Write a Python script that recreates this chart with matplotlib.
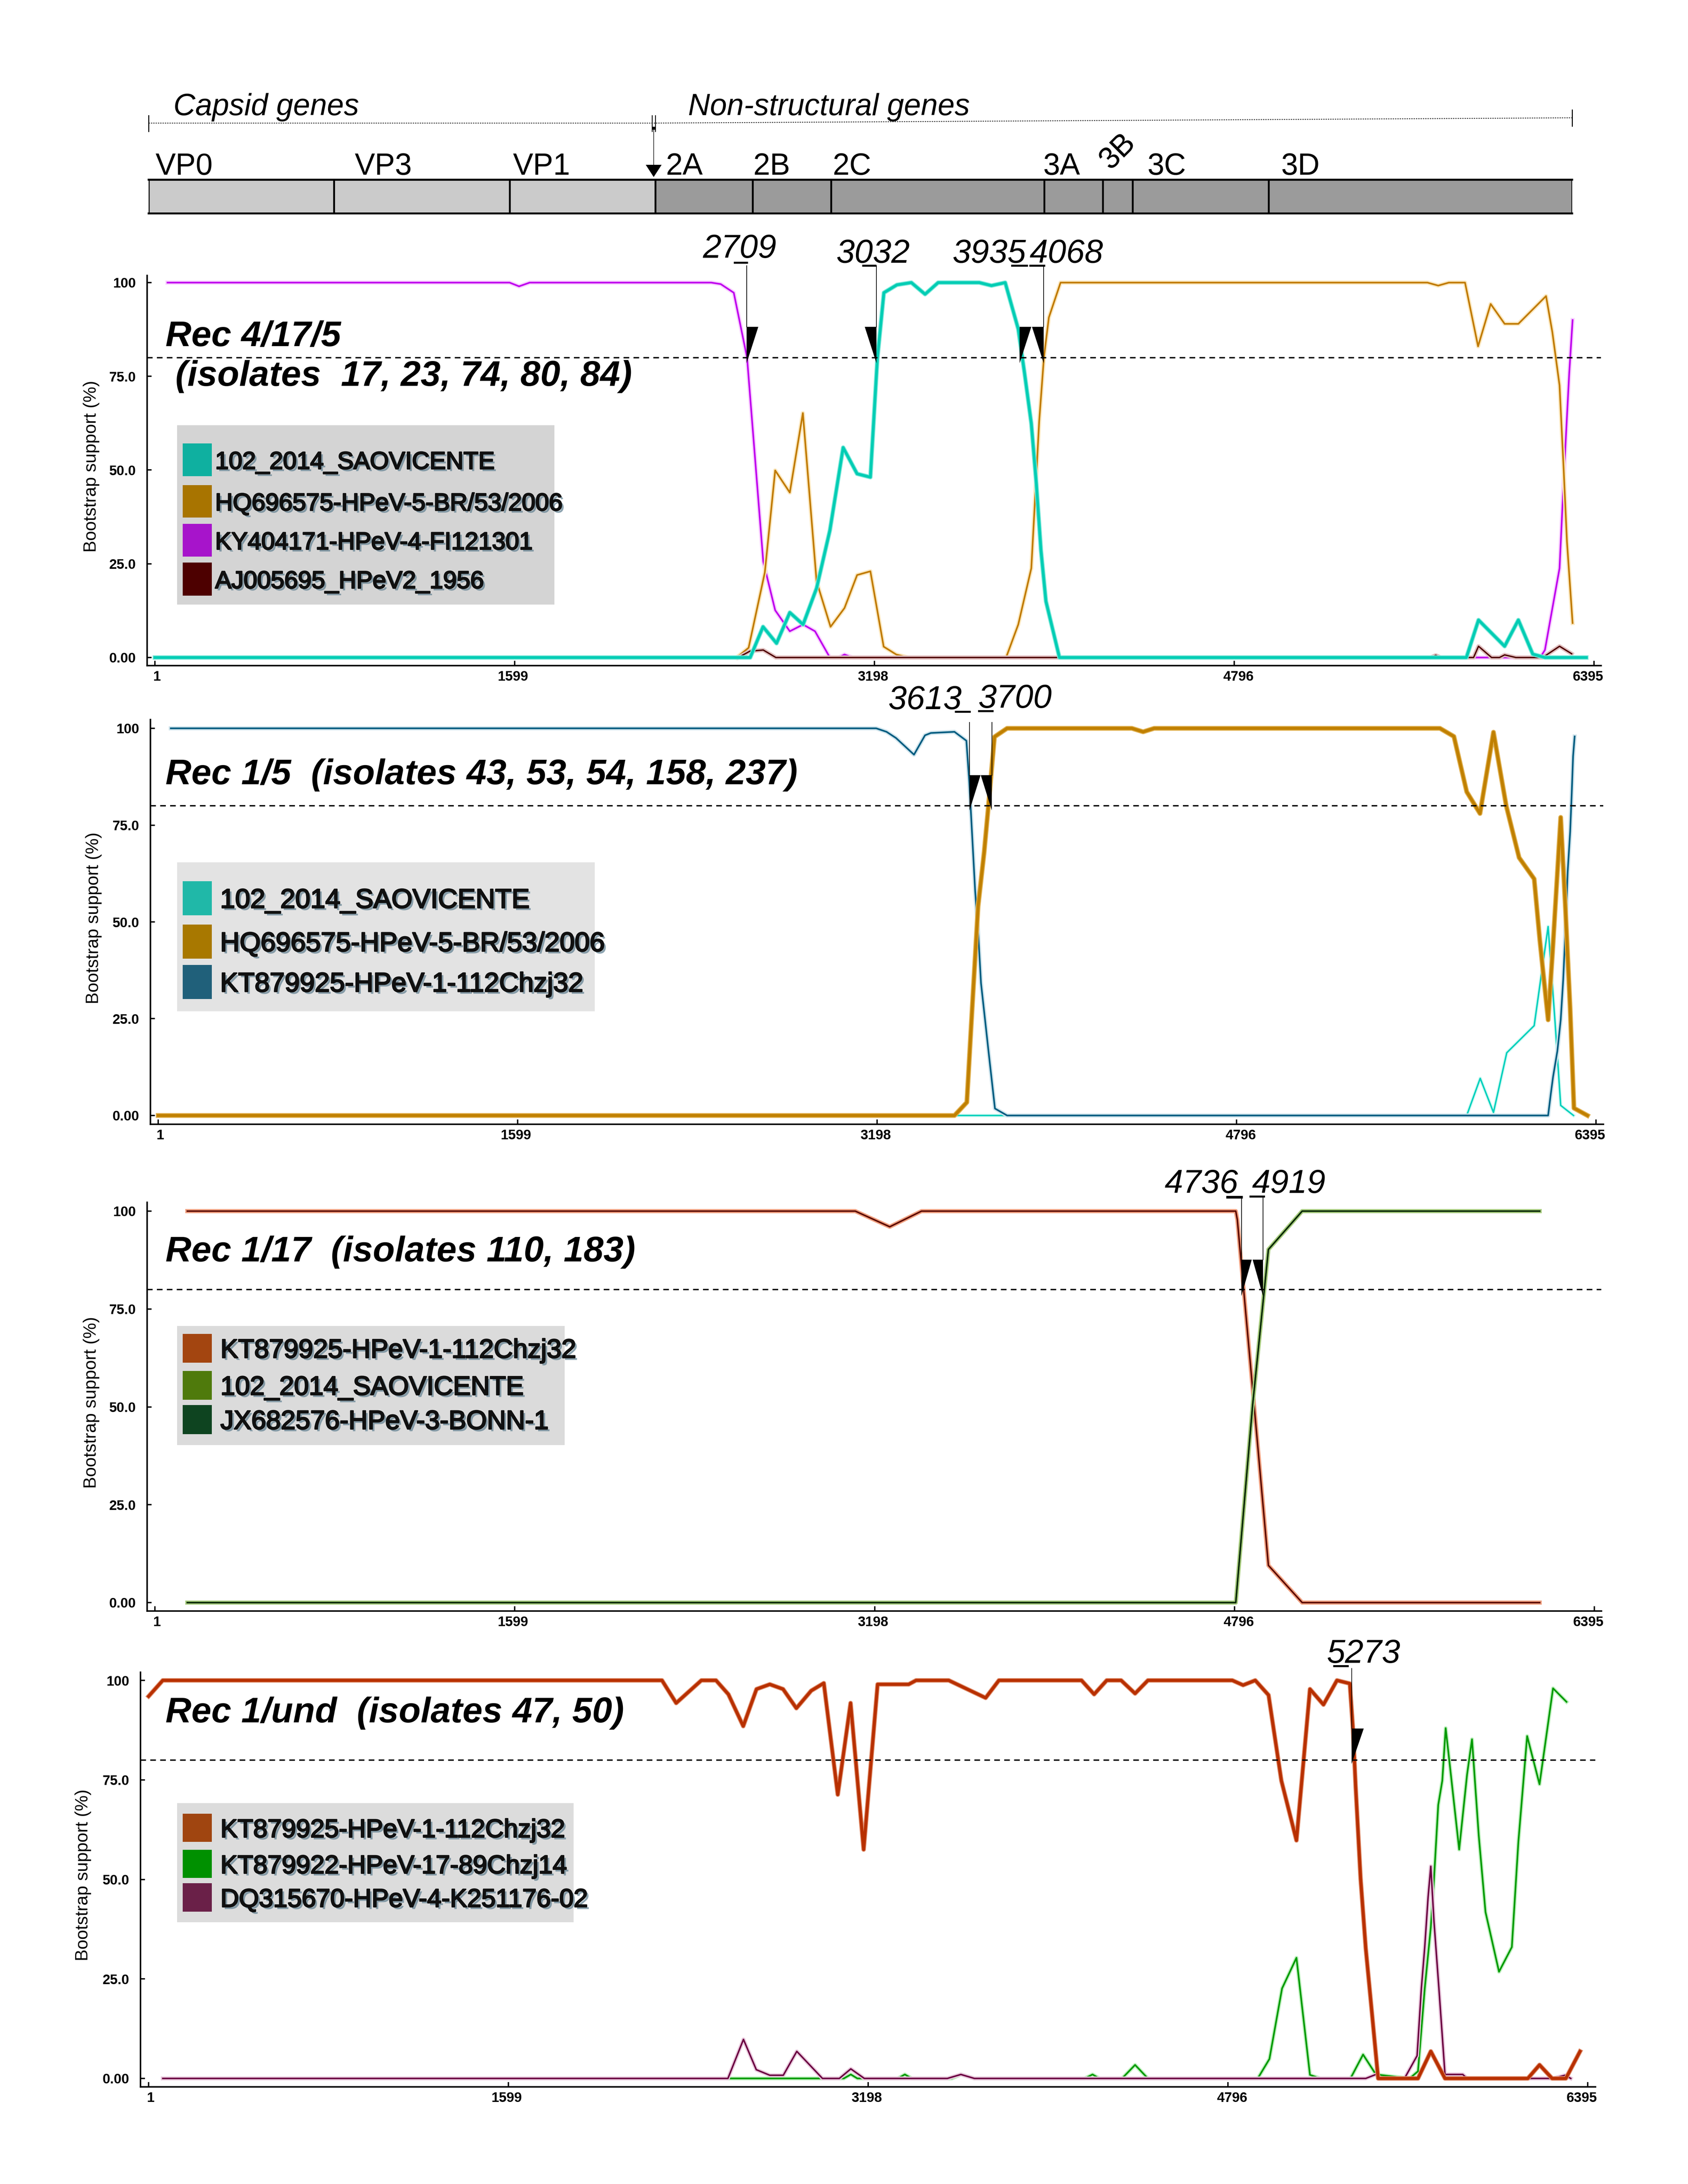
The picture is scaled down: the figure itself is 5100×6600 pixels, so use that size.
import matplotlib
matplotlib.use('Agg')
import matplotlib.pyplot as plt
import matplotlib.patheffects as pe
from matplotlib.transforms import ScaledTranslation

plt.rcParams['font.family'] = ['Liberation Sans', 'DejaVu Sans']

W, H = 5100, 6600

# genome map
gene_names = ['VP0', 'VP3', 'VP1', '2A', '2B', '2C', '3A', '3B', '3C', '3D']
gene_edges = [0, 833, 1622, 2277, 2714, 3066, 4024, 4287, 4421, 5032, 6395]
gene_colors = ['#CBCBCB'] * 3 + ['#9B9B9B'] * 7

x_ticks = [1, 1599, 3198, 4796, 6395]
y_ticks = [0, 25, 50, 75, 100]
y_tick_labels = ['0.00', '25.0', '50.0', '75.0', '100']
threshold = 80

# Rec 4/17/5
p1_labels = ['102_2014_SAOVICENTE', 'HQ696575-HPeV-5-BR/53/2006', 'KY404171-HPeV-4-FI121301', 'AJ005695_HPeV2_1956']
p1_ky_x = [57, 1577, 1619, 1666, 2473, 2515, 2573, 2632, 2704, 2757, 2822, 2881, 2934, 3000, 3040, 3065, 3100, 6156, 6177, 6242, 6263, 6285, 6300]
p1_ky_y = [100, 100, 99, 100, 100, 99.6, 97.3, 80, 25.6, 12.6, 7, 8.8, 7, 0, 0, 0.8, 0, 0, 2, 23.8, 50.5, 75.8, 90]
p1_hq_x = [2586, 2639, 2711, 2757, 2822, 2880, 2941, 3003, 3065, 3121, 3180, 3239, 3295, 3348, 3783, 3837, 3895, 3912, 3930, 3951, 3973, 4025, 5655, 5703, 5750, 5822, 5880, 5936, 5998, 6059, 6182, 6210, 6242, 6260, 6275, 6300]
p1_hq_y = [0, 2.6, 22.7, 49.9, 44, 65.2, 20.3, 8.2, 13.2, 22, 23, 2.9, 0.8, 0, 0, 8.8, 23.8, 42.7, 63, 80, 90.7, 100, 100, 99.2, 100, 100, 83, 94.3, 89, 89, 96.4, 86.8, 72.6, 50.6, 30.9, 9.2]
p1_aj_x = [2593, 2645, 2704, 2760, 5670, 5692, 5714, 5860, 5882, 5940, 5975, 5998, 6048, 6167, 6242, 6296]
p1_aj_y = [0, 1.7, 2, 0, 0, 0.6, 0, 0, 3, 0, 0, 0.7, 0, 0, 3, 1]
p1_sv_x = [1, 2646, 2703, 2763, 2822, 2881, 2941, 3000, 3059, 3121, 3180, 3211, 3240, 3298, 3362, 3423, 3481, 3664, 3718, 3779, 3837, 3865, 3895, 3917, 3938, 3960, 4020, 5828, 5882, 5998, 6059, 6123, 6177, 6361]
p1_sv_y = [0, 0, 8.2, 3.8, 12, 8.8, 18.5, 33.9, 56, 49, 48.1, 79.7, 97.3, 99.4, 100, 96.9, 100, 100, 99.2, 100, 87.6, 75.8, 62.4, 46.6, 28.5, 15, 0, 0, 10, 3, 10, 0.9, 0, 0]

# Rec 1/5
p2_labels = ['102_2014_SAOVICENTE', 'HQ696575-HPeV-5-BR/53/2006', 'KT879925-HPeV-1-112Chzj32']
p2_sv_x = [3542, 5820, 5880, 5939, 5998, 6120, 6182, 6213, 6238, 6295]
p2_sv_y = [0, 0, 9.6, 0.8, 16.2, 23.2, 48.8, 24, 2.6, 0]
p2_kt_x = [57, 3194, 3240, 3282, 3362, 3411, 3437, 3542, 3595, 3608, 3621, 3634, 3647, 3660, 3693, 3722, 3776, 6182, 6194, 6204, 6223, 6238, 6249, 6256, 6269, 6280, 6287, 6293, 6300]
p2_kt_y = [100, 100, 99.1, 97.5, 93.2, 98.2, 98.8, 99.1, 96.8, 86, 72, 58, 47.6, 34.2, 16.8, 1.8, 0, 0, 5.6, 10, 16.6, 24.7, 35, 43.8, 63, 73.3, 83.2, 92.8, 97.9]
p2_hq_x = [1, 3542, 3597, 3621, 3647, 3674, 3693, 3720, 3776, 4331, 4381, 4430, 5701, 5763, 5820, 5879, 5939, 5996, 6053, 6120, 6145, 6182, 6202, 6238, 6259, 6280, 6297, 6357]
p2_hq_y = [0, 0, 3.4, 27.9, 54, 68, 80, 97.8, 100, 100, 99.1, 100, 100, 97.9, 83.6, 78, 99, 79.9, 66.6, 61.1, 45.3, 24.7, 42.4, 77, 53.4, 27.6, 1.9, 0]

# Rec 1/17
p3_labels = ['KT879925-HPeV-1-112Chzj32', '102_2014_SAOVICENTE', 'JX682576-HPeV-3-BONN-1']
p3_kt_x = [145, 3112, 3265, 3406, 4802, 4809, 4881, 4947, 5097, 6152]
p3_kt_y = [100, 100, 96, 100, 100, 97.8, 52, 9.5, 0, 0]
p3_sv_x = [145, 4802, 4877, 4947, 5097, 6152]
p3_sv_y = [0, 0, 50.5, 90.2, 100, 100]
p3_jx_x = [145, 4802, 4877, 4947, 5097, 6152]
p3_jx_y = [0, 0, 50.5, 90.2, 100, 100]

# Rec 1/und
p4_labels = ['KT879925-HPeV-1-112Chzj32', 'KT879922-HPeV-17-89Chzj14', 'DQ315670-HPeV-4-K251176-02']
p4_kt_x = [1, 64, 2282, 2345, 2457, 2522, 2577, 2643, 2702, 2761, 2820, 2879, 2945, 3001, 3063, 3120, 3178, 3240, 3378, 3411, 3556, 3720, 3779, 4146, 4202, 4258, 4322, 4384, 4441, 4816, 4864, 4918, 4977, 5034, 5101, 5161, 5221, 5281, 5338, 5352, 5364, 5386, 5409, 5439, 5464, 5641, 5698, 5761, 6129, 6181, 6237, 6298, 6361]
p4_kt_y = [96, 100, 100, 94.3, 100, 100, 96.5, 88.5, 97.8, 99, 97.8, 93, 97.4, 99.3, 71.3, 94.3, 57.5, 99, 99, 100, 100, 95.6, 100, 100, 96.5, 100, 100, 96.7, 100, 100, 98.8, 100, 96.3, 74.8, 59.8, 97.8, 93.9, 100, 99.2, 87.9, 73.3, 50.2, 32.6, 14.9, 0, 0, 6.8, 0, 0, 3.4, 0, 0, 6.8]
p4_k2_x = [2575, 3000, 3090, 3121, 3150, 3330, 3361, 3392, 3570, 3610, 3670, 4160, 4195, 4225, 4326, 4384, 4441, 4929, 4981, 5037, 5101, 5161, 5206, 5341, 5397, 5454, 5604, 5641, 5671, 5698, 5712, 5731, 5749, 5764, 5784, 5824, 5859, 5881, 5911, 5941, 6001, 6058, 6087, 6126, 6181, 6241, 6301]
p4_k2_y = [0, 0, 0, 1, 0, 0, 1, 0, 0, 1, 0, 0, 1, 0, 0, 3.4, 0, 0, 4.9, 22.6, 30.3, 0.9, 0, 0, 6, 1, 0, 1.8, 22.6, 38, 50, 68.7, 74.8, 88, 77.9, 57.5, 76.3, 85.2, 61, 41.8, 26.8, 33, 59.4, 86, 73.9, 98, 94.6]
p4_dq_x = [64, 2575, 2644, 2701, 2761, 2821, 2881, 2995, 3070, 3121, 3181, 3550, 3610, 3670, 5409, 5454, 5476, 5581, 5637, 5656, 5671, 5686, 5698, 5712, 5734, 5761, 5840, 5859, 6181, 6240, 6294, 6320]
p4_dq_y = [0, 0, 9.8, 2.2, 0.8, 0.8, 6.8, 0, 0, 2.4, 0, 0, 1, 0, 0, 1, 0, 0, 5.7, 22.6, 33, 45.6, 53.3, 39.5, 22.6, 1, 1, 0, 0, 0, 0.8, 0]


def fx(px):
    return px / W


def fy(py):
    return 1 - py / H


fig = plt.figure(figsize=(17, 22), dpi=300, facecolor='white')

# overlay in image pixels, used for the free text and the legend boxes
over = fig.add_axes([0, 0, 1, 1], zorder=5)
over.set_xlim(0, W)
over.set_ylim(H, 0)
over.axis('off')


def panel(left, right, top, bottom, x0, xs, y0, y100):
    ax = fig.add_axes([fx(left), fy(bottom), fx(right - left), (bottom - top) / H])
    ax.set_xlim(1 + (left - x0) / xs, 1 + (right - x0) / xs)
    per = (y0 - y100) / 100
    ax.set_ylim((y0 - bottom) / per, (y0 - top) / per)
    for s in ['top', 'right']:
        ax.spines[s].set_visible(False)
    for s in ['left', 'bottom']:
        ax.spines[s].set_linewidth(1.1)
    ax.set_xticks(x_ticks)
    ax.set_xticklabels([str(t) for t in x_ticks])
    ax.set_yticks(y_ticks)
    ax.set_yticklabels(y_tick_labels)
    ax.tick_params(direction='in', length=3.3, width=1.0, labelsize=10)
    ax.tick_params(axis='x', pad=3.5)
    ax.tick_params(axis='y', pad=8)
    for t in ax.get_xticklabels() + ax.get_yticklabels():
        t.set_fontweight('bold')
    # the tick labels do not sit centred under their ticks in the original
    for t, dx in zip(ax.get_xticklabels(), [6, -5, -5, 13, -18]):
        t.set_transform(t.get_transform() + ScaledTranslation(dx / 300, 0, fig.dpi_scale_trans))
    ax.axhline(threshold, color='black', lw=1.0, dashes=(4.1, 3.1), zorder=6)
    ax.patch.set_alpha(0)
    return ax


def series(ax, x, y, color, lw, halo, halo_lw):
    ax.plot(x, y, color=halo, lw=halo_lw, solid_joinstyle='round', clip_on=False)
    ax.plot(x, y, color=color, lw=lw, solid_joinstyle='round', clip_on=False)


def breakpoint_mark(ax, nt, side, tip, top, width, line_top):
    ax.fill([nt, nt + side * width, nt], [tip, top, top], color='black', lw=0, zorder=8, clip_on=False)
    if line_top is not None:
        ax.plot([nt, nt], [top, line_top], color='black', lw=0.5, zorder=8, clip_on=False)


def legend(box, swatches, colors, labels, bg, text_x, size):
    over.fill([box[0], box[1], box[1], box[0]], [box[2], box[2], box[3], box[3]], color=bg, lw=0, zorder=1)
    for (a, b), c, t in zip(swatches, colors, labels):
        over.fill([box[0] + 17, box[0] + 105, box[0] + 105, box[0] + 17], [a, a, b, b], color=c, lw=0, zorder=2)
        # regular weight with a stroke: the original bold is narrower than Liberation bold
        over.text(text_x, (a + b) / 2 + 8, t, fontsize=size, ha='left', va='center', color='#101010', zorder=3,
                  path_effects=[pe.SimplePatchShadow(offset=(1.6, -1.6), shadow_rgbFace='#5F7F90', alpha=0.7),
                                pe.Stroke(linewidth=0.9, foreground='#101010'), pe.Normal()])


def title(x, y, s):
    over.text(x, y, s, fontsize=26, style='italic', weight='bold', ha='left', va='baseline', color='black')


def bp_label(cx, y, s, u0, u1, uy, thick=6):
    over.text(cx, y, s, fontsize=24, style='italic', ha='center', va='baseline', color='black')
    over.plot([u0, u1], [uy, uy], color='black', lw=thick / 4.17, solid_capstyle='butt')


def ylab(x, y):
    over.text(x, y, 'Bootstrap support (%)', rotation=90, fontsize=12.8, ha='center', va='center', color='black')


# genome map
gm = fig.add_axes([fx(449), fy(645), fx(4750 - 449), 102 / H])
gm.set_xlim(0, 6395)
gm.set_ylim(0, 1)
gm.barh([0.5] * len(gene_names), [b - a for a, b in zip(gene_edges[:-1], gene_edges[1:])], left=gene_edges[:-1],
        height=1, color=gene_colors, edgecolor='black', linewidth=1.3)
for s in gm.spines.values():
    s.set_linewidth(0)
gm.spines['top'].set_linewidth(1.4)
gm.spines['bottom'].set_linewidth(1.4)
gm.set_xticks([])
gm.set_yticks([])

gene_text_x = [470, 1072, 1550, 2011, 2275, 2515, 3152, None, 3467, 3871]
for name, gx in zip(gene_names, gene_text_x):
    if gx is not None:
        over.text(gx, 528, name, fontsize=22, ha='left', va='baseline', color='black')
over.text(3377, 458, '3B', fontsize=22, rotation=45, ha='center', va='center', color='black')
over.text(524, 348, 'Capsid genes', fontsize=22, style='italic', ha='left', va='baseline')
over.text(2079, 348, 'Non-structural genes', fontsize=22, style='italic', ha='left', va='baseline')
over.plot([449, 1974, 4750], [372, 372, 356], color='#333333', lw=0.6, dashes=(1.6, 1.2))
over.plot([449, 449], [349, 397], color='black', lw=0.7)
over.plot([4750, 4750], [332, 381], color='black', lw=0.7)
over.plot([1970, 1970], [349, 397], color='black', lw=0.6)
over.plot([1980, 1980], [349, 397], color='black', lw=0.6)
over.fill([1970, 1980, 1980, 1970], [383, 383, 392, 392], color='black', lw=0)
over.plot([1975, 1975], [392, 500], color='black', lw=0.4)
over.fill([1951, 1999, 1975], [498, 498, 535], color='black', lw=0)

# panel 1
ax1 = panel(444, 4837, 832, 2011, 468, 0.68, 1987, 854)
series(ax1, p1_ky_x, p1_ky_y, '#BF00EE', 1.2, '#F8D0FF', 3.0)
series(ax1, p1_hq_x, p1_hq_y, '#C07A00', 1.2, '#FBE8C0', 3.0)
series(ax1, p1_aj_x, p1_aj_y, '#4D0000', 1.0, '#E0C0C0', 3.0)
series(ax1, p1_sv_x, p1_sv_y, '#00CDB4', 2.0, '#7FE8DA', 3.2)
breakpoint_mark(ax1, 2630, 1, 78.5, 88.2, 52, 104.5)
breakpoint_mark(ax1, 3207, -1, 78.5, 88.2, 52, 104.5)
breakpoint_mark(ax1, 3843, 1, 78.5, 88.2, 52, None)
breakpoint_mark(ax1, 3950, -1, 78.5, 88.2, 52, 104.5)
bp_label(2235, 779, '2709', 2217, 2260, 794)
bp_label(2638, 794, '3032', 2605, 2648, 803)
bp_label(2989, 794, '3935', 3055, 3106, 803)
bp_label(3222, 794, '4068', 3110, 3158, 803)
title(500, 1046, 'Rec 4/17/5')
title(530, 1166, '(isolates  17, 23, 74, 80, 84)')
legend((535, 1675, 1285, 1827), [(1340, 1439), (1466, 1564), (1583, 1682), (1700, 1800)],
       ['#0FB0A0', '#A87400', '#A714CB', '#4D0000'], p1_labels, '#D4D4D4', 650, 17.7)
ylab(276, 1410)

# panel 2
ax2 = panel(454, 4844, 2174, 3397, 478, 0.6794, 3371, 2201)
series(ax2, p2_sv_x, p2_sv_y, '#00D0BC', 1.1, '#D8FAF5', 2.6)
series(ax2, p2_kt_x, p2_kt_y, '#005C80', 1.2, '#D0E4EC', 3.0)
series(ax2, p2_hq_x, p2_hq_y, '#C08000', 2.2, '#E0B050', 3.5)
breakpoint_mark(ax2, 3609, 1, 78.8, 87.9, 49, 101.5)
breakpoint_mark(ax2, 3708, -1, 78.8, 87.9, 49, 101.5)
bp_label(2795, 2143, '3613', 2885, 2933, 2151)
bp_label(3067, 2139, '3700', 2955, 3002, 2149)
title(500, 2370, 'Rec 1/5  (isolates 43, 53, 54, 158, 237)')
legend((535, 1797, 2606, 3056), [(2663, 2766), (2794, 2897), (2916, 3019)],
       ['#20B8A8', '#A87800', '#20607A'], p2_labels, '#E3E3E3', 665, 19.6)
ylab(283, 2775)

# panel 3
ax3 = panel(444, 4838, 3633, 4868, 468, 0.6802, 4843, 3660)
series(ax3, p3_kt_x, p3_kt_y, '#5A0A00', 1.1, '#F0A080', 3.0)
series(ax3, p3_sv_x, p3_sv_y, '#4F7A0C', 1.1, '#A8CC80', 3.0)
ax3.plot(p3_jx_x, p3_jx_y, color='#0A2A0A', lw=1.1, solid_joinstyle='round', clip_on=False)
breakpoint_mark(ax3, 4827, 1, 78.3, 87.6, 46, 103.5)
breakpoint_mark(ax3, 4923, -1, 78.3, 87.6, 46, 103.5)
bp_label(3630, 3605, '4736', 3705, 3755, 3618, 8)
bp_label(3894, 3605, '4919', 3775, 3822, 3616)
title(500, 3812, 'Rec 1/17  (isolates 110, 183)')
legend((535, 1706, 4007, 4367), [(4031, 4118), (4143, 4230), (4246, 4334)],
       ['#A34510', '#4F7A0C', '#0E4420'], p3_labels, '#DBDBDB', 666, 19.2)
ylab(276, 4239)

# panel 4
ax4 = panel(424, 4820, 5053, 6306, 449, 0.68, 6281, 5078)
series(ax4, p4_k2_x, p4_k2_y, '#009A00', 1.2, '#C0F0C0', 2.8)
series(ax4, p4_dq_x, p4_dq_y, '#6A0040', 1.1, '#E8C8DC', 2.8)
series(ax4, p4_kt_x, p4_kt_y, '#B83000', 2.2, '#E09070', 3.3)
breakpoint_mark(ax4, 5346, 1, 79, 87.9, 54, 103)
bp_label(4120, 5025, '5273', 4028, 4075, 5035)
title(500, 5205, 'Rec 1/und  (isolates 47, 50)')
legend((535, 1733, 5449, 5809), [(5481, 5566), (5590, 5675), (5691, 5777)],
       ['#A04510', '#009000', '#6A2048'], p4_labels, '#DCDCDC', 666, 18.6)
ylab(251, 5667)

fig.savefig('out.png', dpi=300, facecolor='white')
